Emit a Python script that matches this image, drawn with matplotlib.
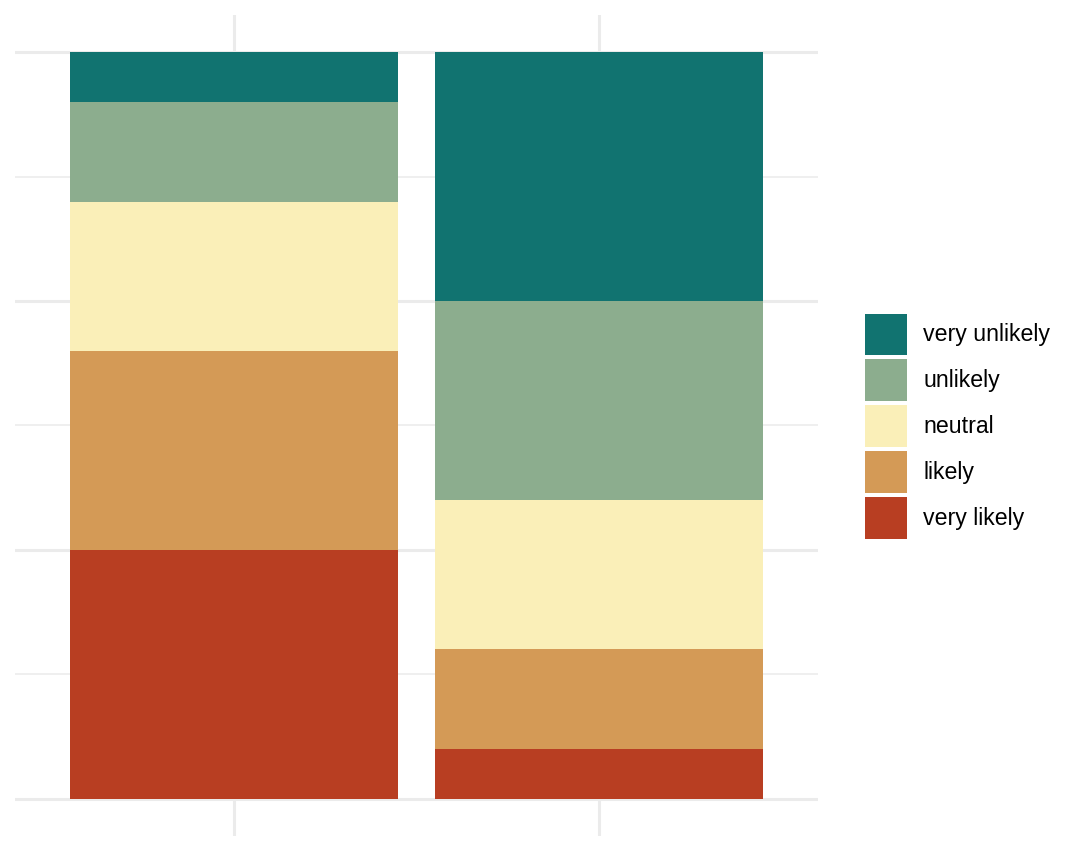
import numpy as np
import matplotlib.pyplot as plt

groups = ['A', 'B']
levels = ['very unlikely', 'unlikely', 'neutral', 'likely', 'very likely']
colors = ['#117370', '#8CAD8E', '#FAEFB8', '#D49A56', '#B83E22']
counts = {
    'very unlikely': [1, 5],
    'unlikely': [2, 4],
    'neutral': [3, 3],
    'likely': [4, 2],
    'very likely': [5, 1],
}

fig = plt.figure(figsize=(10.82, 8.52), dpi=100)
ax = fig.add_axes([15 / 1082, 1 - 836 / 852, 803 / 1082, 821 / 852])

x = np.arange(1, len(groups) + 1)
bottom = np.zeros(len(groups))
# stack from the bottom: very likely first
handles = {}
for lev, col in zip(levels[::-1], colors[::-1]):
    vals = np.array(counts[lev], dtype=float)
    handles[lev] = ax.bar(x, vals, width=0.9, bottom=bottom, color=col,
                          linewidth=0, zorder=2)
    bottom += vals

total = bottom.max()
ax.set_xlim(0.4, 2.6)
ax.set_ylim(-0.05 * total, total * 1.05)
ax.set_xticks(x)
ax.set_yticks([0, 5, 10, 15])
ax.set_yticks([2.5, 7.5, 12.5], minor=True)
ax.grid(True, which='major', color='#EBEBEB', linewidth=2.2, zorder=0)
ax.grid(True, which='minor', axis='y', color='#EBEBEB', linewidth=1.1, zorder=0)
ax.tick_params(which='both', length=0, labelleft=False, labelbottom=False)
for s in ax.spines.values():
    s.set_visible(False)

fs = 16.7
# legend key box: 30pt wide and 30pt tall (handle height loses a descent)
leg = fig.legend([handles[l] for l in levels], levels, loc='center left',
                 bbox_to_anchor=(865 / 1082, 1 - 426 / 852), frameon=False,
                 prop={'family': 'Liberation Sans', 'size': fs},
                 handlelength=30 / fs, handleheight=(30 - 0.245 * fs) / 0.65 / fs,
                 handletextpad=12 / fs, labelspacing=3.0 / fs,
                 borderpad=0, borderaxespad=0)

fig.savefig('out.png', dpi=100)
